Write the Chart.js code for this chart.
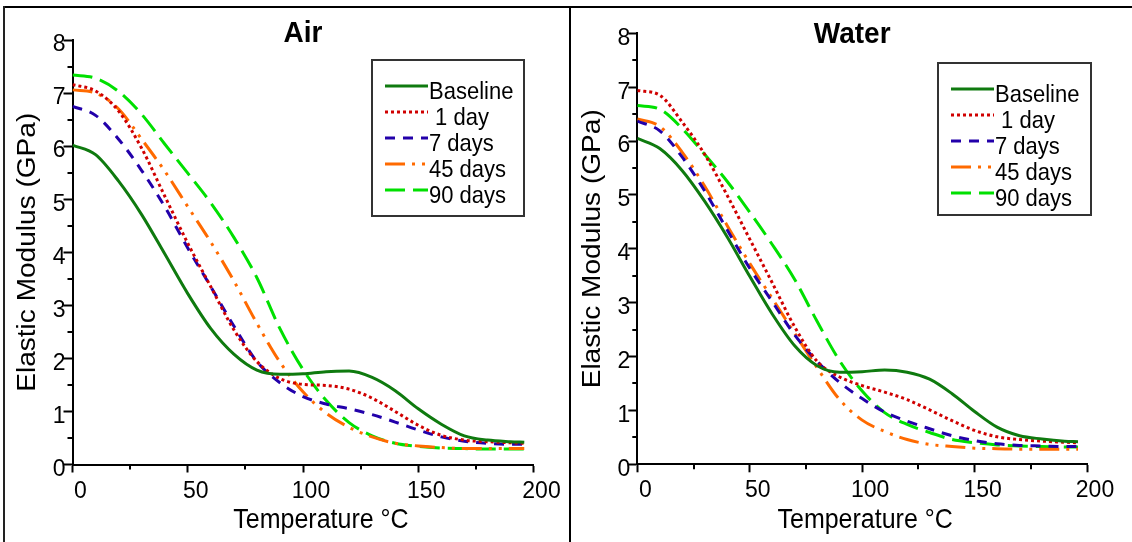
<!DOCTYPE html>
<html>
<head>
<meta charset="utf-8">
<script src="https://cdn.jsdelivr.net/npm/chart.js@4.4.1/dist/chart.umd.min.js"></script>
<style>
  html, body { margin: 0; padding: 0; background: #fff; }
  body { width: 1132px; height: 542px; position: relative; overflow: hidden; }
  .rule { position: absolute; background: #000; }
  .rule.top { left: 3px; top: 6px; width: 1129px; height: 2px; }
  .rule.left { left: 3px; top: 6px; width: 2px; height: 536px; background: #222; }
  .rule.mid { left: 569px; top: 6px; width: 2px; height: 536px; }
  canvas { position: absolute; }
  #airChart { left: 6px; top: 9px; }
  #waterChart { left: 572px; top: 9px; }
</style>
</head>
<body>
<div class="rule top"></div>
<div class="rule left"></div>
<div class="rule mid"></div>
<canvas id="airChart" width="563" height="533"></canvas>
<canvas id="waterChart" width="560" height="533"></canvas>
<script>
// temperature grid (°C) the curves were read at
const temps = [0, 10, 20, 30, 40, 50, 60, 70, 80, 90, 100, 110, 120, 130, 140, 150, 160, 170, 180, 190, 196];
const seriesNames = ['Baseline', ' 1 day', '7 days', '45 days', '90 days'];
const tempTicks = [0, 50, 100, 150, 200];
const minorTempTicks = [25, 75, 125, 175];
const modulusTicks = [0, 1, 2, 3, 4, 5, 6, 7, 8];
const minorModulusTicks = [0.5, 1.5, 2.5, 3.5, 4.5, 5.5, 6.5, 7.5];

// Air panel, elastic modulus (GPa)
const airBaseline = [6.02, 5.84, 5.34, 4.71, 3.97, 3.22, 2.56, 2.08, 1.78, 1.70, 1.71, 1.75, 1.76, 1.64, 1.39, 1.05, 0.76, 0.54, 0.46, 0.43, 0.42];
const air1Day     = [7.16, 7.04, 6.66, 5.96, 5.06, 4.17, 3.35, 2.54, 1.94, 1.62, 1.51, 1.49, 1.42, 1.25, 1.00, 0.74, 0.55, 0.46, 0.43, 0.41, 0.40];
const air7Days    = [6.75, 6.58, 6.13, 5.54, 4.86, 4.08, 3.35, 2.61, 1.94, 1.54, 1.28, 1.14, 1.05, 0.94, 0.80, 0.65, 0.52, 0.44, 0.40, 0.38, 0.38];
const air45Days   = [7.06, 7.00, 6.70, 6.13, 5.53, 4.86, 4.19, 3.46, 2.66, 1.93, 1.37, 0.97, 0.70, 0.52, 0.40, 0.35, 0.32, 0.30, 0.30, 0.30, 0.30];
const air90Days   = [7.34, 7.28, 7.03, 6.60, 6.04, 5.49, 4.93, 4.28, 3.52, 2.56, 1.79, 1.21, 0.79, 0.54, 0.40, 0.34, 0.31, 0.30, 0.29, 0.29, 0.29];

// Water panel, elastic modulus (GPa)
const waterBaseline = [6.05, 5.86, 5.45, 4.88, 4.22, 3.49, 2.79, 2.20, 1.83, 1.71, 1.72, 1.75, 1.71, 1.58, 1.31, 0.98, 0.69, 0.53, 0.47, 0.43, 0.42];
const water1Day     = [6.94, 6.85, 6.35, 5.75, 4.99, 4.18, 3.37, 2.55, 1.91, 1.62, 1.46, 1.34, 1.20, 1.01, 0.81, 0.63, 0.51, 0.46, 0.43, 0.41, 0.40];
const water7Days    = [6.37, 6.19, 5.70, 5.07, 4.35, 3.64, 3.02, 2.40, 1.91, 1.52, 1.22, 0.97, 0.80, 0.66, 0.53, 0.44, 0.38, 0.35, 0.34, 0.33, 0.33];
const water45Days   = [6.41, 6.27, 5.79, 5.16, 4.43, 3.73, 3.08, 2.43, 1.79, 1.20, 0.82, 0.61, 0.46, 0.37, 0.33, 0.30, 0.29, 0.28, 0.28, 0.28, 0.28];
const water90Days   = [6.66, 6.59, 6.23, 5.75, 5.25, 4.68, 4.08, 3.43, 2.65, 1.92, 1.36, 0.96, 0.74, 0.59, 0.46, 0.40, 0.36, 0.34, 0.33, 0.32, 0.32];

const lineStyles = [
  { color: '#0f7a0f', dash: [] },
  { color: '#d00000', dash: [3, 3] },
  { color: '#2200aa', dash: [10, 8] },
  { color: '#ff6a00', dash: [20, 7, 3, 7, 3, 7] },
  { color: '#00e000', dash: [20, 8] }
];

const FONT = '"Liberation Sans", Arial, Helvetica, sans-serif';

// text in the source is a bit taller than it is wide
function stretchedText(ctx, text, x, y, sy) {
  ctx.save();
  ctx.translate(x, y);
  ctx.scale(1, sy);
  ctx.fillText(text, 0, 0);
  ctx.restore();
}

// titles, axis titles, minor ticks and boxed legend
const panelDecor = {
  id: 'panelDecor',
  afterDraw(chart, args, opts) {
    const { ctx, chartArea: area, scales: { x, y } } = chart;
    ctx.save();

    ctx.strokeStyle = '#000';
    ctx.lineWidth = 2;
    ctx.beginPath();
    minorTempTicks.forEach(t => {
      const px = Math.round(x.getPixelForValue(t));
      ctx.moveTo(px, area.bottom);
      ctx.lineTo(px, area.bottom + 5);
    });
    minorModulusTicks.forEach(v => {
      const py = Math.round(y.getPixelForValue(v));
      ctx.moveTo(area.left, py);
      ctx.lineTo(area.left - 5, py);
    });
    ctx.stroke();

    const midX = (area.left + area.right) / 2;
    const midY = (area.top + area.bottom) / 2;
    ctx.fillStyle = '#000';

    ctx.font = 'bold 28px ' + FONT;
    ctx.textAlign = 'center';
    ctx.textBaseline = 'alphabetic';
    stretchedText(ctx, opts.title, midX + opts.titleDx, opts.titleBase, 1.08);

    ctx.font = '25px ' + FONT;
    stretchedText(ctx, 'Temperature °C', midX + opts.xTitleDx, opts.xTitleBase, 1.1);

    ctx.save();
    ctx.translate(opts.yTitleBase, midY);
    ctx.rotate(-Math.PI / 2);
    ctx.scale(1.1, 1);
    ctx.font = '25.5px ' + FONT;
    ctx.fillText('Elastic Modulus (GPa)', 0, 0);
    ctx.restore();

    const lg = opts.legend;
    ctx.lineWidth = 2;
    ctx.strokeStyle = '#333';
    ctx.strokeRect(lg.x, lg.y, lg.w, lg.h);
    ctx.font = '22px ' + FONT;
    ctx.textAlign = 'left';
    chart.data.datasets.forEach((ds, i) => {
      const ly = lg.y + 26 + i * 26;
      ctx.save();
      ctx.strokeStyle = ds.borderColor;
      ctx.lineWidth = 3;
      ctx.setLineDash(ds.borderDash);
      ctx.beginPath();
      ctx.moveTo(lg.x + 13, ly);
      ctx.lineTo(lg.x + 56, ly);
      ctx.stroke();
      ctx.restore();
      ctx.fillStyle = '#000';
      stretchedText(ctx, ds.label, lg.x + 57, ly + 13, 1.1);
    });

    ctx.restore();
  }
};

function buildChart(canvasId, seriesList, panel) {
  const datasets = seriesList.map((vals, i) => ({
    label: seriesNames[i],
    data: temps.map((t, j) => ({ x: t, y: vals[j] })),
    borderColor: lineStyles[i].color,
    borderDash: lineStyles[i].dash,
    borderWidth: 3,
    borderCapStyle: 'butt',
    pointRadius: 0,
    fill: false,
    cubicInterpolationMode: 'monotone'
  }));

  return new Chart(document.getElementById(canvasId), {
    type: 'line',
    data: { datasets },
    options: {
      responsive: false,
      animation: false,
      devicePixelRatio: 1,
      layout: { padding: { top: panel.top, right: panel.right, left: 0, bottom: 0 } },
      plugins: {
        legend: { display: false },
        title: { display: false },
        tooltip: { enabled: false },
        panelDecor: panel.decor
      },
      scales: {
        x: {
          type: 'linear',
          min: 0,
          max: 200,
          afterBuildTicks: s => { s.ticks = tempTicks.map(v => ({ value: v })); },
          afterFit: s => { s.height = panel.xHeight; },
          grid: { drawOnChartArea: false, tickLength: 8, tickWidth: 2, tickColor: '#000' },
          border: { color: '#000', width: 2 },
          ticks: { color: '#000', font: { family: FONT, size: 23 }, padding: 5, labelOffset: 8, maxRotation: 0 }
        },
        y: {
          min: 0,
          max: 8,
          afterBuildTicks: s => { s.ticks = modulusTicks.map(v => ({ value: v })); },
          afterFit: s => { s.width = panel.yWidth; },
          grid: { drawOnChartArea: false, tickLength: 9, tickWidth: 2, tickColor: '#000' },
          border: { color: '#000', width: 2 },
          ticks: { color: '#000', font: { family: FONT, size: 23 }, padding: -2, labelOffset: 5 }
        }
      }
    },
    plugins: [panelDecor]
  });
}

buildChart('airChart', [airBaseline, air1Day, air7Days, air45Days, air90Days], {
  top: 31, right: 35.5, yWidth: 66.5, xHeight: 77.5,
  decor: {
    title: 'Air', titleDx: 0, titleBase: 33,
    xTitleDx: 18, xTitleBase: 519, yTitleBase: 29,
    legend: { x: 366, y: 51, w: 152, h: 156 }
  }
});

buildChart('waterChart', [waterBaseline, water1Day, water7Days, water45Days, water90Days], {
  top: 24.3, right: 45, yWidth: 65.3, xHeight: 77.7,
  decor: {
    title: 'Water', titleDx: -10, titleBase: 34,
    xTitleDx: 3, xTitleBase: 519, yTitleBase: 28,
    legend: { x: 366, y: 54, w: 153, h: 152 }
  }
});
</script>
</body>
</html>
